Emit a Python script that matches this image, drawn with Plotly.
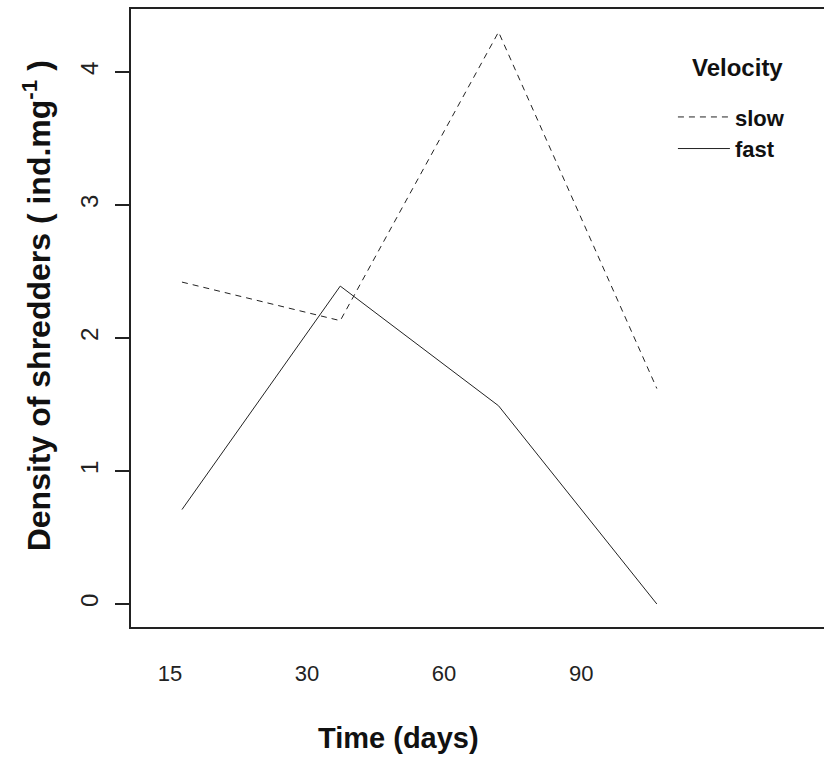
import plotly.graph_objects as go

# Sampling times and mean shredder densities per flow velocity
days = ["15", "30", "60", "90"]
slow = [2.42, 2.13, 4.30, 1.62]
fast = [0.71, 2.39, 1.49, 0.00]
y_ticks = [0, 1, 2, 3, 4]

pos = list(range(len(days)))          # plotting positions of the sampling dates
label_step = 0.866                    # spacing of the time labels along the axis
label_start = -0.076
label_pos = [label_start + i * label_step for i in pos]

font_family = "Liberation Sans, Arial, sans-serif"
ink = "#222222"
text_ink = "#111111"

fig = go.Figure()
fig.add_trace(go.Scatter(x=pos, y=slow, mode="lines", name="<b>slow</b>",
                         line=dict(color=ink, width=1, dash="6px,5px")))
fig.add_trace(go.Scatter(x=pos, y=fast, mode="lines", name="<b>fast</b>",
                         line=dict(color=ink, width=1)))

# titles placed as free annotations (the plotting region runs past the right edge)
annotations = [
    dict(text="<b>Velocity</b>", xref="paper", yref="paper",
         x=0.8745, y=0.906, xanchor="center", yanchor="middle",
         showarrow=False, font=dict(size=24, family=font_family, color=text_ink)),
    dict(text="<b>Time (days)</b>", xref="paper", yref="paper",
         x=0.3867, y=-0.1796, xanchor="center", yanchor="middle",
         showarrow=False, font=dict(size=29, family=font_family, color=text_ink)),
    dict(text="<b>Density of shredders ( ind.mg<sup>-1</sup> )</b>",
         xref="paper", yref="paper", x=-0.1356, y=0.519,
         xanchor="center", yanchor="middle", textangle=-90,
         showarrow=False, font=dict(size=32, family=font_family, color=text_ink)),
]

fig.update_layout(
    width=824, height=758,
    margin=dict(l=131, r=0, t=9, b=131),
    paper_bgcolor="white", plot_bgcolor="white",
    font=dict(family=font_family, color=ink),
    showlegend=True,
    legend=dict(
        x=0.782, y=0.859, xanchor="left", yanchor="top",
        bgcolor="rgba(0,0,0,0)", borderwidth=0,
        font=dict(size=22, family=font_family, color=text_ink),
        tracegroupgap=0, itemwidth=52,
    ),
    annotations=annotations,
)

fig.update_xaxes(
    range=[-0.322, 4.056],
    showgrid=False, zeroline=False,
    showline=True, linecolor=ink, linewidth=1.5, mirror=True,
    ticks="", tickmode="array", tickvals=label_pos, ticktext=days,
    tickfont=dict(size=22, color=ink), ticklabelstandoff=26,
)
fig.update_yaxes(
    range=[-0.173, 4.473],
    showgrid=False, zeroline=False,
    showline=True, linecolor=ink, linewidth=1.5, mirror=False,
    ticks="outside", ticklen=14, tickwidth=1.5, tickcolor=ink,
    tickmode="array", tickvals=y_ticks, tickangle=-90,
    tickfont=dict(size=24, color=ink), ticklabelstandoff=8,
)

fig.write_html("out.html")
